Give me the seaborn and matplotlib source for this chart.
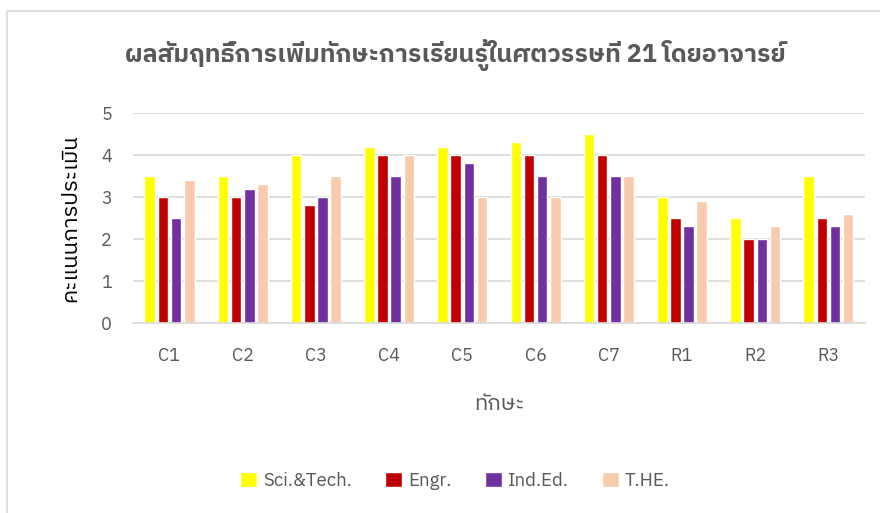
import matplotlib
matplotlib.use("Agg")
import matplotlib.pyplot as plt
from matplotlib import font_manager
from matplotlib.ft2font import FT2Font
import pandas as pd
import seaborn as sns

skills = ["C1", "C2", "C3", "C4", "C5", "C6", "C7", "R1", "R2", "R3"]
sci_tech = [3.5, 3.5, 4.0, 4.2, 4.2, 4.3, 4.5, 3.0, 2.5, 3.5]
engr = [3.0, 3.0, 2.8, 4.0, 4.0, 4.0, 4.0, 2.5, 2.0, 2.5]
ind_ed = [2.5, 3.2, 3.0, 3.5, 3.8, 3.5, 3.5, 2.3, 2.0, 2.3]
t_he = [3.4, 3.3, 3.5, 4.0, 3.0, 3.0, 3.5, 2.9, 2.3, 2.6]
groups = ["Sci.&Tech.", "Engr.", "Ind.Ed.", "T.HE."]
colors = ["#FFFF00", "#C00000", "#7030A0", "#F8CBAD"]

df = pd.DataFrame({"skill": skills, groups[0]: sci_tech, groups[1]: engr,
                   groups[2]: ind_ed, groups[3]: t_he})
long = df.melt(id_vars="skill", var_name="group", value_name="score")


# look for an installed family that has Thai letters
def thai_family():
    found = []
    for f in font_manager.fontManager.ttflist:
        try:
            cmap = FT2Font(f.fname).get_charmap()
        except Exception:
            continue
        if 0x0E01 in cmap and 0x0E4C in cmap:
            found.append(f.name)
    found.sort(key=lambda n: ("Sans" not in n, "Loop" in n, n))
    return found[0] if found else None


thai = thai_family()

sns.set_style("white")
fams = ["Noto Sans", "DejaVu Sans"]
if thai:
    fams = [thai] + fams
plt.rcParams["font.family"] = fams

fig = plt.figure(figsize=(8.8, 5.13), dpi=100)
ax = fig.add_axes([0.151, 0.370, 0.832, 0.410])

sns.barplot(data=long, x="skill", y="score", hue="group", hue_order=groups,
            palette=colors, width=0.72, gap=0.2, saturation=1, ax=ax)

ax.set_ylim(0, 5)
ax.set_xlim(-0.5, 9.5)
ax.set_yticks(range(6))
ax.grid(axis="y", color="#D9D9D9", lw=1.2)
ax.set_axisbelow(True)
for s in ["top", "right", "left"]:
    ax.spines[s].set_visible(False)
ax.spines["bottom"].set_color("#D9D9D9")
ax.spines["bottom"].set_linewidth(1.2)
ax.tick_params(axis="both", length=0, colors="#595959", labelsize=13)
ax.tick_params(axis="x", pad=17)
ax.tick_params(axis="y", pad=15)

ax.set_xlabel("ทักษะ", fontsize=16, color="#595959", labelpad=20)
ax.set_ylabel("คะแนนการประเมิน", fontsize=16, color="#000000", labelpad=14)
fig.text(0.517, 0.893, "ผลสัมฤทธิ์การเพิ่มทักษะการเรียนรู้ในศตวรรษที่ 21 โดยอาจารย์",
         ha="center", va="center", fontsize=18, fontweight="bold", color="#595959")

ax.legend(loc="center", bbox_to_anchor=(0.44, -0.75), ncol=4, frameon=False,
          fontsize=13.5, labelcolor="#595959", handlelength=0.9, handleheight=0.9,
          handletextpad=0.3, columnspacing=1.8)

fig.add_artist(plt.Rectangle((0.008, -0.1), 1.2, 1.078, transform=fig.transFigure,
                             fill=False, ec="#D9D9D9", lw=1.2))

fig.savefig("out.png", dpi=100)
